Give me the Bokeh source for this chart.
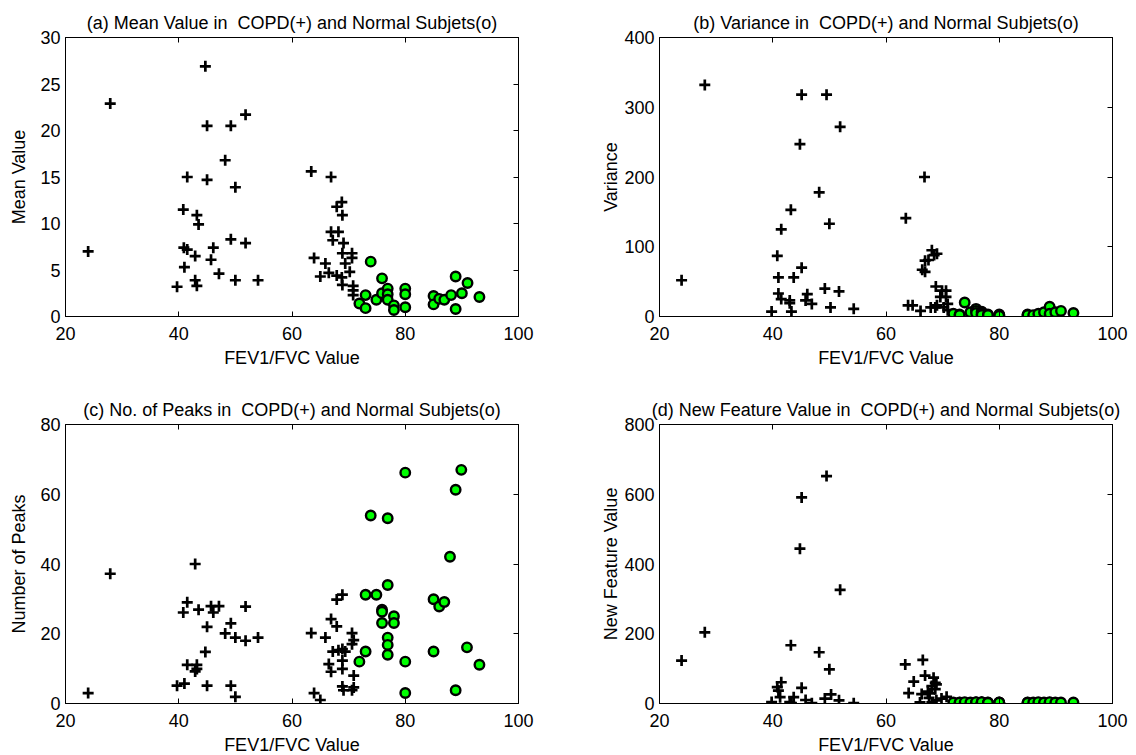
from bokeh.plotting import figure
from bokeh.models import LinearAxis, Range1d, FixedTicker
from bokeh.layouts import column, row
from bokeh.embed import file_html
from bokeh.resources import INLINE

FONT = "Liberation Sans"

# ---------------- data ----------------
x_ticks = [20, 40, 60, 80, 100]

# (a) Mean value
a_copd_x = [44.7, 27.9, 51.8, 45.0, 49.2, 48.2, 41.5, 45.0, 50.0, 40.8, 43.2, 43.5, 49.2, 51.8,
            40.9, 41.5, 46.1, 42.9, 45.7, 24.0, 41.0, 47.1, 42.9, 43.2, 50.0, 54.0, 39.7,
            63.4, 66.9, 67.9, 68.8, 68.9, 66.9, 68.2, 67.2, 69.1, 68.9, 70.6, 70.6, 63.9, 65.9,
            69.4, 70.2, 65.0, 66.5, 67.9, 68.8, 68.9, 70.8, 70.8, 70.8]
a_copd_y = [26.9, 22.9, 21.7, 20.5, 20.5, 16.8, 15.0, 14.7, 13.9, 11.5, 10.9, 9.9, 8.3, 7.9,
            7.4, 7.2, 7.4, 6.5, 6.1, 7.0, 5.3, 4.6, 3.9, 3.3, 3.9, 3.9, 3.2,
            15.6, 15.0, 11.8, 12.3, 10.9, 9.1, 9.1, 8.2, 7.9, 6.8, 6.8, 6.3, 6.3, 5.7,
            5.7, 4.8, 4.3, 4.7, 4.4, 4.2, 3.4, 3.3, 2.8, 2.3]
a_norm_x = [73.9, 75.9, 73.0, 71.9, 73.0, 74.9, 75.9, 76.9, 76.9, 76.9, 78.0, 78.0, 80.0, 80.0,
            80.0, 85.0, 85.0, 86.0, 86.9, 88.1, 88.9, 88.9, 90.0, 91.0, 93.1]
a_norm_y = [5.9, 4.1, 2.3, 1.4, 0.9, 1.8, 2.5, 3.0, 2.4, 1.8, 1.2, 0.7, 3.0, 2.4,
            1.0, 2.2, 1.3, 1.9, 1.8, 2.3, 4.3, 0.8, 2.5, 3.6, 2.1]
a_yticks = [0, 5, 10, 15, 20, 25, 30]

# (b) Variance
b_copd_x = [28.0, 45.1, 49.5, 51.9, 44.8, 48.2, 43.2, 50.0, 41.5, 40.8, 45.1, 23.9, 41.0, 43.7,
            49.2, 51.7, 41.0, 41.5, 43.0, 43.0, 46.1, 45.8, 46.9, 50.2, 54.3, 39.8, 43.3,
            66.8, 63.5, 68.1, 69.0, 68.5, 67.5, 66.9, 66.4, 66.9, 68.8, 69.9, 70.6, 69.6, 70.6,
            70.9, 70.2, 63.9, 64.7, 66.1, 67.9, 68.7, 69.0, 70.9]
b_copd_y = [332, 318, 318, 272, 247, 178, 153, 133, 125, 87, 70, 52, 56, 56,
            40, 36, 33, 25, 23, 19, 32, 23, 18, 13, 11, 7, 7,
            200, 141, 95, 90, 88, 81, 80, 67, 64, 43, 37, 37, 28, 28,
            18, 13, 16, 16, 8, 13, 13, 16, 9]
b_norm_x = [71.9, 73.0, 73.0, 73.9, 74.9, 75.9, 75.9, 75.9, 76.9, 76.9, 76.9, 76.9, 76.9, 78.0,
            78.0, 80.0, 80.0, 80.0, 85.0, 85.0, 86.0, 86.9, 87.9, 88.9, 88.9, 89.9, 90.9, 93.1]
b_norm_y = [4, 3, 2, 20, 6, 11, 8, 5, 7, 6, 4, 3, 2, 3,
            2, 3, 2, 1, 3, 2, 2, 4, 6, 14, 4, 6, 8, 5]
b_yticks = [0, 100, 200, 300, 400]

# (c) Number of peaks
c_copd_x = [42.9, 27.9, 41.5, 40.8, 43.5, 45.7, 47.1, 46.1, 51.8, 49.2, 45.0, 48.2, 50.0, 51.8,
            54.0, 44.7, 41.5, 43.2, 43.2, 42.9, 39.7, 41.0, 45.0, 49.2, 50.0, 24.0,
            67.9, 68.9, 66.9, 67.9, 63.4, 65.9, 70.6, 70.9, 70.6, 67.2, 68.2, 68.9, 69.4, 66.5,
            66.9, 68.9, 68.9, 70.9, 68.9, 69.1, 70.6, 70.9, 63.9, 65.0]
c_copd_y = [40.0, 37.2, 29.0, 26.1, 26.9, 27.9, 27.9, 26.1, 27.8, 23.0, 22.0, 20.1, 18.9, 18.0,
            18.9, 14.8, 11.1, 11.1, 9.9, 9.2, 5.1, 5.7, 5.1, 5.1, 1.9, 3.0,
            29.8, 31.2, 24.2, 22.1, 20.2, 18.9, 20.2, 18.2, 17.0, 14.9, 15.3, 15.6, 14.9, 11.3,
            9.1, 12.3, 9.9, 8.0, 4.9, 3.8, 3.8, 4.6, 3.0, 1.0]
c_norm_x = [80.0, 89.9, 88.9, 73.9, 76.9, 87.9, 76.9, 73.0, 74.9, 85.0, 86.0, 86.9, 75.9, 75.9,
            78.0, 75.9, 78.0, 76.9, 76.9, 76.9, 73.0, 71.9, 80.0, 85.0, 90.9, 93.1, 80.0, 88.9]
c_norm_y = [66.2, 67.0, 61.3, 53.9, 53.1, 42.1, 34.0, 31.2, 31.2, 29.9, 27.8, 29.1, 26.9, 26.3,
            25.0, 23.1, 23.1, 18.9, 16.8, 14.0, 14.9, 12.0, 12.0, 14.9, 16.1, 11.1, 3.0, 3.8]
c_yticks = [0, 20, 40, 60, 80]

# (d) New feature value
d_copd_x = [23.9, 28.0, 49.5, 45.1, 44.8, 51.9, 43.2, 48.2, 50.0, 41.5, 40.8, 41.0, 45.1, 50.3,
            49.2, 41.3, 43.7, 39.8, 43.0, 43.3, 45.8, 46.9, 51.7, 54.3,
            63.4, 66.5, 64.9, 66.9, 68.4, 68.7, 68.1, 68.9, 64.0, 66.3, 67.4, 67.7, 66.0, 68.1,
            68.9, 69.8, 70.7, 68.7, 67.6]
d_copd_y = [123, 204, 652, 591, 444, 326, 167, 147, 98, 61, 47, 37, 45, 26,
            14, 18, 18, 4, 4, 1, 10, 1, 9, 1,
            112, 125, 63, 80, 74, 59, 50, 55, 30, 27, 34, 29, 3, 3,
            9, 14, 19, 41, 16]
d_norm_x = [71.9, 73.0, 73.0, 73.9, 74.9, 75.9, 75.9, 75.9, 76.9, 76.9, 76.9, 76.9, 76.9, 78.0,
            78.0, 80.0, 80.0, 80.0, 85.0, 85.0, 86.0, 86.9, 87.9, 88.9, 88.9, 89.9, 90.9, 93.1]
d_norm_y = [3, 2, 3, 4, 3, 3, 2, 4, 3, 2, 3, 2, 4, 3,
            2, 3, 2, 3, 3, 2, 3, 4, 3, 2, 4, 3, 3, 3]
d_yticks = [0, 200, 400, 600, 800]

FS = "18px"


def panel(title, ylabel, cx, cy, nx, ny, yticks, left, right, top, bottom, ylab_standoff):
    p = figure(frame_width=453, frame_height=279,
               x_range=Range1d(x_ticks[0], x_ticks[-1]),
               y_range=Range1d(yticks[0], yticks[-1]),
               output_backend="svg", toolbar_location=None,
               min_border_left=left, min_border_right=right,
               min_border_top=top, min_border_bottom=bottom,
               background_fill_color="white", border_fill_color="white")
    p.title.text = title
    p.title.align = "center"
    p.title.text_font = FONT
    p.title.text_font_size = FS
    p.title.text_font_style = "normal"
    p.title.text_color = "black"
    p.title.standoff = 9
    p.xgrid.visible = False
    p.ygrid.visible = False
    p.outline_line_color = "black"
    p.outline_line_width = 1
    p.outline_line_alpha = 1

    xa = p.xaxis[0]
    xa.ticker = FixedTicker(ticks=x_ticks)
    xa.major_tick_in = 5
    xa.major_tick_out = 0
    xa.minor_tick_in = 0
    xa.minor_tick_out = 0
    xa.major_label_standoff = 10
    xa.major_label_text_font = FONT
    xa.major_label_text_font_size = FS
    xa.major_label_text_color = "black"
    xa.axis_label = "FEV1/FVC Value"
    xa.axis_label_text_font = FONT
    xa.axis_label_text_font_size = FS
    xa.axis_label_text_font_style = "normal"
    xa.axis_label_text_color = "black"
    xa.axis_label_standoff = 5
    xa.axis_line_color = "black"
    xa.major_tick_line_color = "black"

    ya = p.yaxis[0]
    ya.ticker = FixedTicker(ticks=yticks)
    ya.major_tick_in = 0
    ya.major_tick_out = 0
    ya.minor_tick_in = 0
    ya.minor_tick_out = 0
    ya.major_label_standoff = 5
    ya.major_label_text_font = FONT
    ya.major_label_text_font_size = FS
    ya.major_label_text_color = "black"
    ya.axis_label = ylabel
    ya.axis_label_text_font = FONT
    ya.axis_label_text_font_size = FS
    ya.axis_label_text_font_style = "normal"
    ya.axis_label_text_color = "black"
    ya.axis_label_standoff = ylab_standoff
    ya.axis_line_color = "black"

    top_ax = LinearAxis(ticker=FixedTicker(ticks=x_ticks), major_tick_in=5, major_tick_out=0,
                        minor_tick_in=0, minor_tick_out=0, major_label_standoff=0,
                        major_label_text_font_size="1px", major_label_text_color=None,
                        axis_line_color="black", major_tick_line_color="black")
    p.add_layout(top_ax, "above")
    right_ax = LinearAxis(ticker=FixedTicker(ticks=yticks), major_tick_in=5, major_tick_out=0,
                          minor_tick_in=0, minor_tick_out=0, major_label_standoff=0,
                          major_label_text_font_size="1px", major_label_text_color=None,
                          axis_line_color="black", major_tick_line_color="black")
    p.add_layout(right_ax, "right")

    p.scatter(cx, cy, marker="cross", size=11, line_width=2.7, line_color="black")
    p.scatter(nx, ny, marker="circle", size=9.5, line_width=2.4, line_color="black",
              fill_color="#00ff00")
    return p


SP = "\u00a0 "  # keeps the double space of the original titles

p1 = panel("(a) Mean Value in" + SP + "COPD(+) and Normal Subjets(o)", "Mean Value",
           a_copd_x, a_copd_y, a_norm_x, a_norm_y, a_yticks, 65, 41, 37, 60, 8)
p2 = panel("(b) Variance in" + SP + "COPD(+) and Normal Subjets(o)", "Variance",
           b_copd_x, b_copd_y, b_norm_x, b_norm_y, b_yticks, 100, 24, 37, 60, 0)
p3 = panel("(c) No. of Peaks in" + SP + "COPD(+) and Normal Subjets(o)", "Number of Peaks",
           c_copd_x, c_copd_y, c_norm_x, c_norm_y, c_yticks, 65, 41, 48, 52, 8)
p4 = panel("(d) New Feature Value in" + SP + "COPD(+) and Normal Subjets(o)", "New Feature Value",
           d_copd_x, d_copd_y, d_norm_x, d_norm_y, d_yticks, 100, 24, 48, 52, 0)

layout = column(row(p1, p2, spacing=0), row(p3, p4, spacing=0), spacing=0)

open("out.html", "w").write(file_html(layout, INLINE))
